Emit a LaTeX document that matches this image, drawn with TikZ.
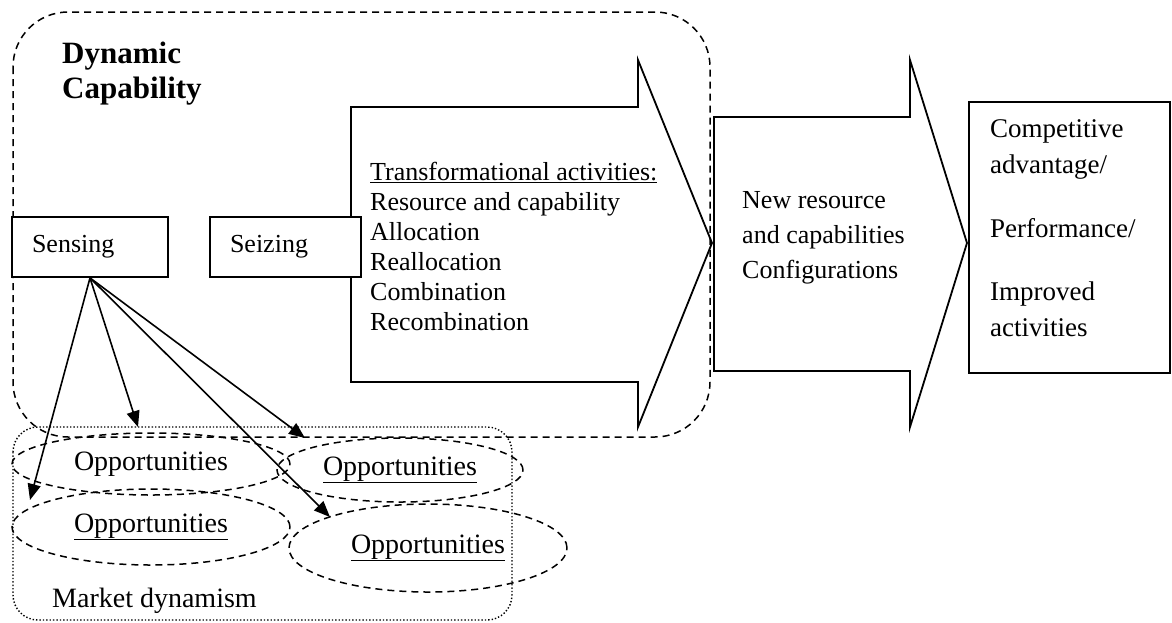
\documentclass[tikz,border=0pt]{standalone}
\usepackage{fontspec}
\setmainfont{Liberation Serif}
\usetikzlibrary{arrows.meta,shapes.geometric,positioning,calc}

\begin{document}
\begin{tikzpicture}[x=1pt,y=-1pt,
    box/.style={draw,line width=1.8pt,fill=white,inner xsep=20pt,inner ysep=0pt,
      text width=#1,align=left,minimum height=60pt,font=\fontsize{26}{30}\selectfont},
    bigarrow/.style={draw,line width=1.8pt,line join=miter},
    opp/.style={draw,ellipse,line width=1.5pt,dash pattern=on 7pt off 5pt,inner sep=0pt,
      font=\fontsize{28}{32}\selectfont},
    label/.style={anchor=north west,inner sep=0pt,align=left},
    sensearrow/.style={line width=1.6pt,-{Triangle[length=16pt,width=13pt]}}]
  \useasboundingbox (0,0) rectangle (1172,622);

  % dynamic capability frame and market frame
  \draw[line width=1.5pt,dash pattern=on 7pt off 5pt,rounded corners=55pt] (13,12) rectangle (710,437);
  \draw[line width=1.4pt,dotted,rounded corners=25pt] (13,427) rectangle (512,620);

  % opportunities
  \node[opp,minimum width=278pt,minimum height=62pt] (opp1) at (151,464) {Opportunities};
  \node[opp,minimum width=246pt,minimum height=64pt] (opp2) at (400,470) {\underline{Opportunities}};
  \node[opp,minimum width=278pt,minimum height=76pt] (opp3) at (151,527) {\underline{Opportunities}};
  \node[opp,minimum width=278pt,minimum height=88pt] (opp4) at (428,548) {\underline{Opportunities}};
  \node[anchor=base west,inner sep=0pt,font=\fontsize{28}{32}\selectfont] (market) at (52,607) {Market dynamism};

  % the two block arrows
  \draw[bigarrow] (351,107) -- (638,107) -- (638,60) -- (712,243) -- (638,427) -- (638,382) -- (351,382) -- cycle;
  \draw[bigarrow] (714,117) -- (910,117) -- (910,60) -- (967,243) -- (910,427) -- (910,371) -- (714,371) -- cycle;

  \node[box=116pt] (sensing) at (90,247) {Sensing};
  \node[box=111pt] (seizing) at (285.5,247) {Seizing};
  \draw[line width=1.8pt] (969,102) rectangle (1170,373);

  \node[label,font=\fontsize{31}{35}\selectfont\bfseries] (dyncap) at (62,42) {Dynamic\\Capability};
  \node[label,font=\fontsize{26}{30}\selectfont] (transform) at (370,162)
    {\underline{Transformational activities:}\\Resource and capability\\Allocation\\Reallocation\\Combination\\Recombination};
  \node[label,font=\fontsize{26}{35}\selectfont] (newres) at (742,191)
    {New resource\\and capabilities\\Configurations};
  \node[label,font=\fontsize{27}{36}\selectfont] (result) at (990,119)
    {Competitive\\advantage/\\[28pt]Performance/\\[27pt]Improved\\activities};

  % sensing points at the opportunities
  \coordinate (t1) at (30,500);
  \coordinate (t2) at (138,427);
  \coordinate (t3) at (305,438);
  \coordinate (t4) at (330,517);
  \foreach \t in {t1,t2,t3,t4}
    \draw[sensearrow] (sensing.south) -- (\t);
\end{tikzpicture}
\end{document}
